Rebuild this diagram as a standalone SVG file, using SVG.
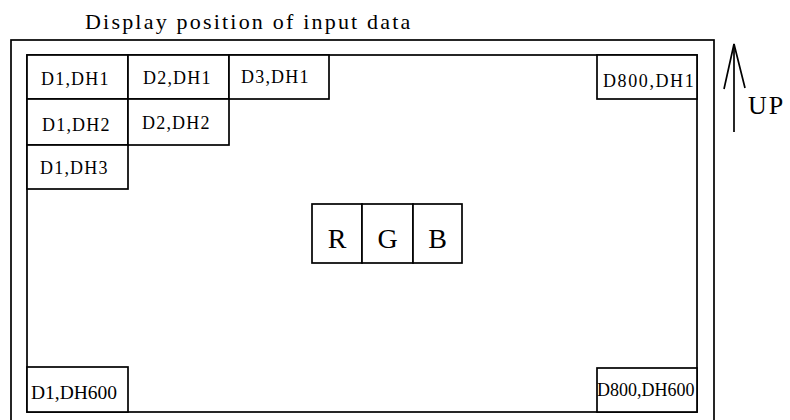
<svg xmlns="http://www.w3.org/2000/svg" width="790" height="420" viewBox="0 0 790 420">
<style>
.b{fill:#fff;stroke:#000;stroke-width:1.7}
.f{fill:none;stroke:#000;stroke-width:1.7}
text{font-family:"Liberation Serif","Times New Roman",serif;fill:#000}
.c{font-size:18px;letter-spacing:1.2px}
.n{font-size:18px}
.rgb{font-size:28px;text-anchor:middle}
</style>
<rect width="790" height="420" fill="#fff"/>
<text x="85" y="29" style="font-size:22px;letter-spacing:2.2px">Display position of input data</text>
<g id="screen-outer"><rect class="f" x="11" y="40" width="703" height="395"/></g>
<g id="screen-inner"><rect class="f" x="27" y="55" width="670" height="357"/></g>
<g id="d1dh1"><rect class="b" x="27" y="55" width="101" height="44"/><text class="c" x="41" y="85">D1,DH1</text></g>
<g id="d2dh1"><rect class="b" x="128" y="55" width="101" height="44"/><text class="c" x="143" y="84">D2,DH1</text></g>
<g id="d3dh1"><rect class="b" x="229" y="55" width="100" height="44"/><text class="c" x="241" y="83">D3,DH1</text></g>
<g id="d1dh2"><rect class="b" x="27" y="99" width="101" height="46"/><text class="c" x="42" y="131">D1,DH2</text></g>
<g id="d2dh2"><rect class="b" x="128" y="99" width="101" height="46"/><text class="c" x="142" y="129">D2,DH2</text></g>
<g id="d1dh3"><rect class="b" x="27" y="145" width="101" height="44"/><text class="c" x="40" y="174">D1,DH3</text></g>
<g id="d800dh1"><rect class="b" x="597" y="55" width="100" height="44"/><text class="n" x="603" y="87" style="letter-spacing:1.6px">D800,DH1</text></g>
<g id="d1dh600"><rect class="b" x="27" y="367" width="101" height="45"/><text x="31" y="399" style="font-size:19.5px">D1,DH600</text></g>
<g id="d800dh600"><rect class="b" x="597" y="368" width="100" height="44"/><text class="n" x="597" y="396">D800,DH600</text></g>
<g id="rgb-r"><rect class="b" x="312" y="204" width="50" height="59"/><text class="rgb" x="337" y="248">R</text></g>
<g id="rgb-g"><rect class="b" x="362" y="204" width="51" height="59"/><text class="rgb" x="387.5" y="248">G</text></g>
<g id="rgb-b"><rect class="b" x="413" y="204" width="49" height="59"/><text class="rgb" x="437.5" y="248">B</text></g>
<g id="connectors">
<line class="f" x1="734" y1="44" x2="734" y2="132"/>
<polyline class="f" points="724,89 734,44 745,88"/>
</g>
<g id="up-label"><text x="748" y="114" style="font-size:26px;letter-spacing:2px">UP</text></g>
</svg>
